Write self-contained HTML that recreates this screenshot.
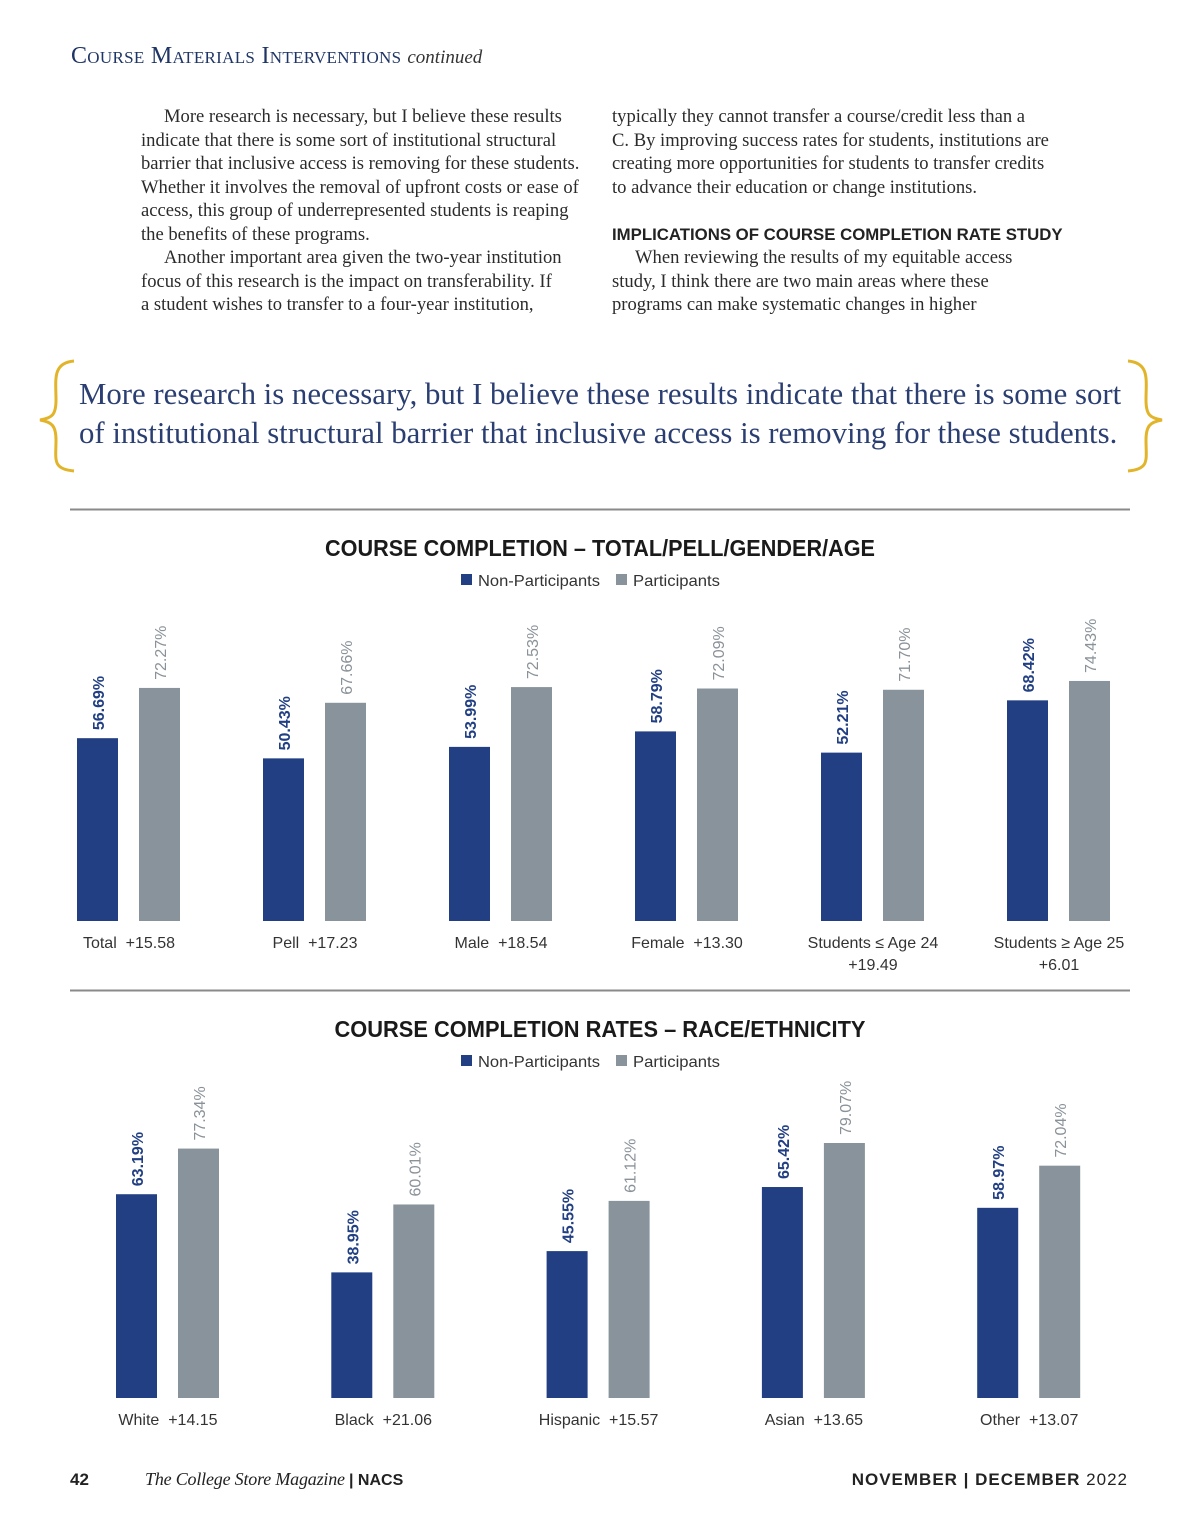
<!DOCTYPE html>
<html><head><meta charset="utf-8">
<style>
body{margin:0;background:#fff;}
#page{position:relative;width:1200px;height:1535px;overflow:hidden;background:#fff;font-family:"Liberation Serif",serif;}
.ln{position:absolute;white-space:nowrap;font-size:18.6px;color:#2b2b2b;line-height:23.5px;}
.pq{position:absolute;white-space:nowrap;font-size:30.8px;color:#2a3e72;left:79px;}
</style></head>
<body>
<div id="page">
<div style="position:absolute;left:71px;top:43px;color:#1f3566;font-size:24px;white-space:nowrap;">
<span style="font-variant:small-caps;letter-spacing:0.3px;">Course Materials Interventions</span> <i style="font-size:19px;color:#333;">continued</i></div>

<div>
<div class="ln" style="left:164px;top:105px">More research is necessary, but I believe these results</div>
<div class="ln" style="left:141px;top:128.5px">indicate that there is some sort of institutional structural</div>
<div class="ln" style="left:141px;top:152px">barrier that inclusive access is removing for these students.</div>
<div class="ln" style="left:141px;top:175.5px">Whether it involves the removal of upfront costs or ease of</div>
<div class="ln" style="left:141px;top:199px">access, this group of underrepresented students is reaping</div>
<div class="ln" style="left:141px;top:222.5px">the benefits of these programs.</div>
<div class="ln" style="left:164px;top:246px">Another important area given the two-year institution</div>
<div class="ln" style="left:141px;top:269.5px">focus of this research is the impact on transferability. If</div>
<div class="ln" style="left:141px;top:293px">a student wishes to transfer to a four-year institution,</div>
</div>
<div>
<div class="ln" style="left:612px;top:105px">typically they cannot transfer a course/credit less than a</div>
<div class="ln" style="left:612px;top:128.5px">C. By improving success rates for students, institutions are</div>
<div class="ln" style="left:612px;top:152px">creating more opportunities for students to transfer credits</div>
<div class="ln" style="left:612px;top:175.5px">to advance their education or change institutions.</div>
<div class="ln" style="left:612px;top:222.5px;font-family:'Liberation Sans',sans-serif;font-weight:bold;font-size:16.8px;color:#222;">IMPLICATIONS OF COURSE COMPLETION RATE STUDY</div>
<div class="ln" style="left:635px;top:246px">When reviewing the results of my equitable access</div>
<div class="ln" style="left:612px;top:269.5px">study, I think there are two main areas where these</div>
<div class="ln" style="left:612px;top:293px">programs can make systematic changes in higher</div>
</div>

<div>
<div class="pq" style="top:377px">More research is necessary, but I believe these results indicate that there is some sort</div>
<div class="pq" style="top:416px">of institutional structural barrier that inclusive access is removing for these students.</div>
</div>

<svg width="1200" height="1535" style="position:absolute;left:0;top:0" id="svg">
<path d="M74,361 C52,363 56,380 56,400 C56,415 52,418 40,420 C52,422 56,426 56,440 C56,460 52,469 74,471" fill="none" stroke="#e2b42a" stroke-width="3"/>
<path d="M1128,361 C1150,363 1146,380 1146,400 C1146,415 1150,418 1162,420 C1150,422 1146,426 1146,440 C1146,460 1150,469 1128,471" fill="none" stroke="#e2b42a" stroke-width="3"/>
<line x1="70" y1="509.5" x2="1130" y2="509.5" stroke="#8a8a8a" stroke-width="2"/>
<line x1="70" y1="990.5" x2="1130" y2="990.5" stroke="#8a8a8a" stroke-width="2"/>
<g id="c1"></g>
<g id="c2"></g>
<text x="70" y="1485" font-family="Liberation Sans,sans-serif" font-weight="bold" font-size="17" fill="#222">42</text>
<text x="145" y="1485" font-family="Liberation Serif,serif" font-style="italic" font-size="18" fill="#222" textLength="200">The College Store Magazine</text>
<text x="349" y="1485" font-family="Liberation Sans,sans-serif" font-weight="bold" font-size="16" fill="#222">| NACS</text>
<text x="1128" y="1485" text-anchor="end" font-family="Liberation Sans,sans-serif" font-size="17" fill="#222" letter-spacing="1"><tspan font-weight="bold">NOVEMBER | DECEMBER</tspan> 2022</text>
</svg>
</div>
<script>
const NS="http://www.w3.org/2000/svg";
// Chart 1 data
const cats1=["Total  +15.58","Pell  +17.23","Male  +18.54","Female  +13.30","Students ≤ Age 24","Students ≥ Age 25"];
const cats1b=["","","","","+19.49","+6.01"];
const non1=[56.69,50.43,53.99,58.79,52.21,68.42];
const part1=[72.27,67.66,72.53,72.09,71.70,74.43];
// Chart 2 data
const cats2=["White  +14.15","Black  +21.06","Hispanic  +15.57","Asian  +13.65","Other  +13.07"];
const cats2b=["","","","",""];
const non2=[63.19,38.95,45.55,65.42,58.97];
const part2=[77.34,60.01,61.12,79.07,72.04];

function mk(tag,attrs,parent){const e=document.createElementNS(NS,tag);for(const k in attrs)e.setAttribute(k,attrs[k]);parent.appendChild(e);return e;}
function chart(g,title,titleY,titleLen,cats,catsb,non,part,base,firstX,step){
  const yScale=v=>base-v*3.225;
  const t=mk("text",{x:600,y:titleY,"text-anchor":"middle","font-family":"Liberation Sans,sans-serif","font-weight":"bold","font-size":"23",fill:"#1a1a1a",textLength:titleLen,lengthAdjust:"spacingAndGlyphs"},g);
  
  
  t.textContent=title;
  const ly=titleY+30;
  const r1=mk("rect",{x:461,y:ly-12,width:11,height:11,fill:"#213f82"},g);
  
  
  const l1=mk("text",{x:478,y:ly,"font-family":"Liberation Sans,sans-serif","font-size":"16",fill:"#333",textLength:122,lengthAdjust:"spacingAndGlyphs"},g);
  
  
  l1.textContent="Non-Participants";
  const r2=mk("rect",{x:616,y:ly-12,width:11,height:11,fill:"#88939b"},g);
  
  
  const l2=mk("text",{x:633,y:ly,"font-family":"Liberation Sans,sans-serif","font-size":"16",fill:"#333",textLength:87,lengthAdjust:"spacingAndGlyphs"},g);
  
  
  l2.textContent="Participants";
  cats.forEach((c,i)=>{
    const x0=firstX+i*step;
    [[non[i],x0,"#213f82","#213f82","bold","non"],[part[i],x0+62,"#88939b","#8a9299","normal","part"]].forEach(([v,x,fc,tc,fw,nm])=>{
      const y=yScale(v);
      const b=mk("rect",{x:x,y:y,width:41,height:base-y,fill:fc},g);
      
      
      const tx=x+27,ty=y-8;
      const lb=mk("text",{x:tx,y:ty,transform:`rotate(-90 ${tx} ${ty})`,"font-family":"Liberation Sans,sans-serif","font-size":"16","font-weight":fw,fill:tc},g);
      
      
      lb.textContent=v.toFixed(2)+"%";
    });
    const cx=x0+52;
    const cl=mk("text",{x:cx,y:base+27,"text-anchor":"middle","font-family":"Liberation Sans,sans-serif","font-size":"16",fill:"#333"},g);
    
    
    cl.setAttribute('style','white-space:pre');
    cl.textContent=c;
    if(catsb[i]){
      const c2=mk("text",{x:cx,y:base+49,"text-anchor":"middle","font-family":"Liberation Sans,sans-serif","font-size":"16",fill:"#333"},g);
      
      
      c2.textContent=catsb[i];
    }
  });
}
chart(document.getElementById('c1'),"COURSE COMPLETION – TOTAL/PELL/GENDER/AGE",556,550,cats1,cats1b,non1,part1,921,77,186);
chart(document.getElementById('c2'),"COURSE COMPLETION RATES – RACE/ETHNICITY",1037,531,cats2,cats2b,non2,part2,1398,116,215.3);
</script>
</body></html>
